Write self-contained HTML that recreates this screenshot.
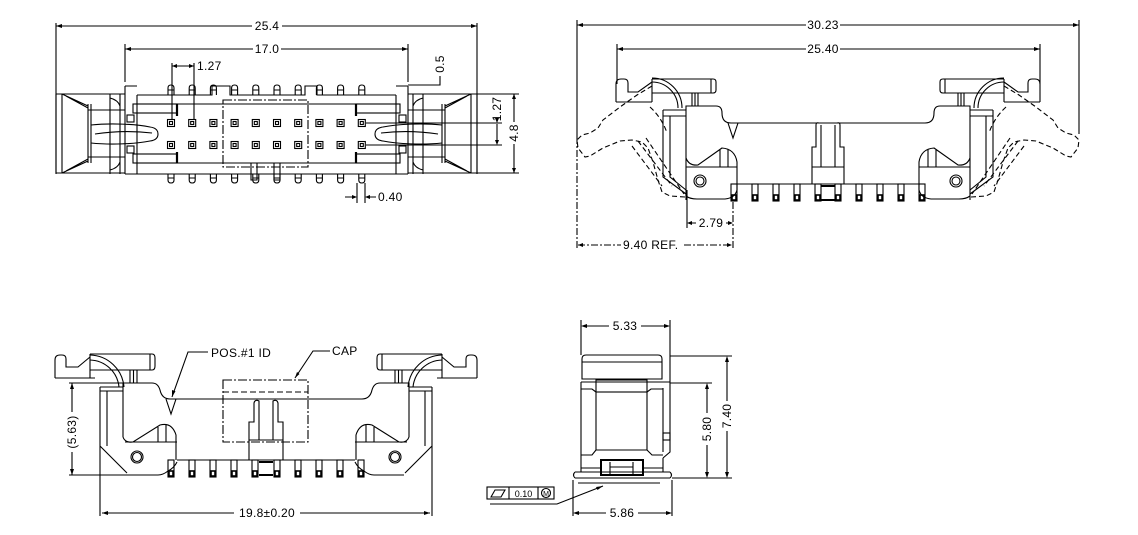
<!DOCTYPE html>
<html><head><meta charset="utf-8">
<style>
html,body{margin:0;padding:0;background:#fff;}
svg{display:block;}
text{font-family:"Liberation Sans",sans-serif;font-size:12px;fill:#000;stroke:none;letter-spacing:0.3px;}
</style></head><body>
<svg width="1138" height="535" viewBox="0 0 1138 535" xmlns="http://www.w3.org/2000/svg">
<defs>
  <path id="pA" d="M-3,95 V88 Q-3,85 0,85 Q3,85 3,88 V95 M-3,90 H3"/>
  <path id="pV" d="M-3,174 V180 Q-3,183 0,183 Q3,183 3,180 V174 M-3,178 H3"/>
  <g id="sq"><rect x="-3.5" y="-3.5" width="7" height="7"/><rect x="-1.5" y="-1.5" width="3" height="3"/></g>
  <g id="pS"><rect x="-3" y="0" width="6" height="17"/><rect x="-2" y="11" width="4" height="5" stroke-width="1.6"/></g>
</defs>

<g fill="none" stroke="#000" stroke-width="1.1">

<!-- ================= TOP-LEFT PLAN VIEW ================= -->
<g id="plLatch">
  <path d="M56,94 V173 M62,94 V173 M62,94 L88,106 M66,96 L88,108 M62,173 L88,161 M66,171 L88,159 M88,104 V163 M91,104 V163 M88,110 H125 M88,157 H125 M56,94 H125 M56,173 H125"/>
  <path d="M91,125 C110,123 135,124 150,127 Q158,128 158,134 Q158,140 150,141 C135,144 110,145 91,143 M95,134 C115,131 135,131 152,133"/>
  <path d="M110,94 V174 M120,94 V174 M125,86 V174 M137,95 V174 M125,86 H137"/>
  <path d="M110,98 Q118,100 120,106 M110,170 Q118,168 120,162"/>
  <rect x="127" y="115" width="7" height="7"/><rect x="127" y="146" width="7" height="7"/>
  <rect x="133" y="104" width="44" height="9"/><rect x="133" y="154" width="44" height="9"/>
  <path d="M177,104 V116 M177,152 V163" stroke-width="2.2"/>
</g>
<use href="#plLatch" transform="translate(533,0) scale(-1,1)"/>

<path d="M137,95 H212 V86 H230 V95 H305 V86 H317 V95 H396"/>
<path d="M137,104 H396 M137,163 H396 M125,174 H408"/>
<rect x="223" y="100" width="85" height="67" stroke-dasharray="9,2,2,2"/>
<path d="M251,163 V180 H257 V163 M274,163 V180 H280 V163"/>

<use href="#pA" x="171"/><use href="#pA" x="192.2"/><use href="#pA" x="213.4"/><use href="#pA" x="234.6"/><use href="#pA" x="255.8"/>
<use href="#pA" x="277"/><use href="#pA" x="298.2"/><use href="#pA" x="319.4"/><use href="#pA" x="340.6"/><use href="#pA" x="361.8"/>
<use href="#pV" x="171"/><use href="#pV" x="192.2"/><use href="#pV" x="213.4"/><use href="#pV" x="234.6"/><use href="#pV" x="255.8"/>
<use href="#pV" x="277"/><use href="#pV" x="298.2"/><use href="#pV" x="319.4"/><use href="#pV" x="340.6"/><use href="#pV" x="361.8"/>
<g>
<use href="#sq" x="171" y="123"/><use href="#sq" x="192.2" y="123"/><use href="#sq" x="213.4" y="123"/><use href="#sq" x="234.6" y="123"/><use href="#sq" x="255.8" y="123"/>
<use href="#sq" x="277" y="123"/><use href="#sq" x="298.2" y="123"/><use href="#sq" x="319.4" y="123"/><use href="#sq" x="340.6" y="123"/><use href="#sq" x="361.8" y="123"/>
<use href="#sq" x="171" y="145"/><use href="#sq" x="192.2" y="145"/><use href="#sq" x="213.4" y="145"/><use href="#sq" x="234.6" y="145"/><use href="#sq" x="255.8" y="145"/>
<use href="#sq" x="277" y="145"/><use href="#sq" x="298.2" y="145"/><use href="#sq" x="319.4" y="145"/><use href="#sq" x="340.6" y="145"/><use href="#sq" x="361.8" y="145"/>
</g>

<!-- plan view dims -->
<path d="M56,23 V174 M477,23 V174 M56,26 H252 M282,26 H477"/>
<path d="M125,44 V82 M408,44 V82 M125,49 H253 M281,49 H408"/>
<path d="M172,63 V119 M194,63 V119 M172,66 H194"/>
<path d="M408,85 H440 V76"/>
<path d="M366,123 H502 M366,145 H502 M497,124 V142"/>
<path d="M477,94 H519 M477,173 H519 M514,94 V122 M514,144 V173"/>
<path d="M357,183 V203 M365,183 V203 M345,197 H356 M366,197 H376"/>
<g fill="#000" stroke="none">
  <path d="M56,26 l6,-2 v4z M477,26 l-6,-2 v4z M125,49 l6,-2 v4z M408,49 l-6,-2 v4z M172,66 l5,-2 v4z M194,66 l-5,-2 v4z"/>
  <path d="M497,123 l-2,-5 h4z M497,145 l-2,-5 h4z M514,94 l-2,5 h4z M514,173 l-2,-5 h4z M357,197 l-5,-2 v4z M365,197 l5,-2 v4z"/>
</g>
<text x="267" y="30" text-anchor="middle">25.4</text>
<text x="267" y="53" text-anchor="middle">17.0</text>
<text x="197" y="70">1.27</text>
<text x="444" y="64" transform="rotate(-90 444 64)" text-anchor="middle">0.5</text>
<text x="501" y="109" transform="rotate(-90 501 109)" text-anchor="middle">1.27</text>
<text x="518" y="133" transform="rotate(-90 518 133)" text-anchor="middle">4.8</text>
<text x="378" y="201">0.40</text>

<!-- ================= TOP-RIGHT SIDE VIEW ================= -->
<g id="trL">
  <path d="M616,102 V84 Q616,79 621,79 H624 Q628,79 628,83 V92 H638 L652,82 M616,102 H652 M652,79 V102"/>
  <path d="M652,79 H713 Q716,79 716,82 V90 Q716,93 713,93 H652 M711,79 V93"/>
  <path d="M652,78 A30,30 0 0 1 682,108 M652,82 A26,26 0 0 1 678,108"/>
  <path d="M692,93 V106 M698,93 V106 M695,93 V106"/>
  <path d="M663,110 H686 M663,116 H686 M663,110 V177 L686,194 M670,116 V177 L686,190"/>
  <path d="M686,200 V106 H716 Q722,106 722,113 Q722,123 731,123 H828"/>
  <path d="M686,158 Q689,166 698,165 L722,148 Q735,149 737,162 V184 M686,167 H737 M720,150 V167 M728,149 V167"/>
  <path d="M737,184 V190 Q735,198 725,199 H697 Q690,199 686,196"/>
  <circle cx="700" cy="181" r="6"/><circle cx="700" cy="181" r="4"/>
  <path d="M737,184 H828 M828,167 H812 V184 M812,167 V147 H816 V125 Q816,122 819,123 M821,125 V167"/>
  <use href="#pS" x="734" y="184"/><use href="#pS" x="755" y="184"/><use href="#pS" x="776" y="184"/><use href="#pS" x="797" y="184"/><use href="#pS" x="818" y="184"/>
  <path d="M821,186 H828 M821,200 H828" stroke-width="2"/>
  <g stroke-dasharray="5,3">
    <path d="M652,86 L637,95 L620,107 L603,120 L598,128 L590,133 L582,135 L577,140 L578,148 L585,157 L590,156 L603,148 L620,141 L632,140 L642,142 L648,148 L653,162 L658,180 L662,192 L670,196 L685,197"/>
    <path d="M632,146 L662,186 M638,141 L672,186 M646,138 L684,194 M650,107 Q662,118 667,133"/>
  </g>
</g>
<use href="#trL" transform="translate(1656,0) scale(-1,1)"/>
<path d="M728,123 L733,138 L738,123"/>

<!-- top-right dims -->
<path d="M577,20 V137 M1079,20 V134 M577,25 H806 M840,25 H1079"/>
<path d="M617,44 V84 M1040,44 V84 M617,49 H806 M840,49 H1040"/>
<path d="M577,137 V249" stroke-dasharray="7,2,2,2"/>
<path d="M687,190 V228 M689,223 H696 M726,223 H731"/>
<path d="M733,202 V250 M578,245 H621 M684,245 H732" stroke-dasharray="7,2,2,2"/>
<g fill="#000" stroke="none">
  <path d="M577,25 l6,-2 v4z M1079,25 l-6,-2 v4z M617,49 l6,-2 v4z M1040,49 l-6,-2 v4z M687,223 l5,-2 v4z M733,223 l-5,-2 v4z M578,245 l5,-2 v4z M732,245 l-5,-2 v4z"/>
</g>
<text x="823" y="29" text-anchor="middle">30.23</text>
<text x="823" y="53" text-anchor="middle">25.40</text>
<text x="711" y="227" text-anchor="middle">2.79</text>
<text x="623" y="249">9.40  REF.</text>

<!-- ================= BOTTOM-LEFT FRONT VIEW ================= -->
<g id="blL">
  <path d="M55,378 V360 Q55,355 60,355 H62 Q66,355 66,359 V367 H78 L90,357 M55,378 H95 M90,354 V378"/>
  <path d="M90,354 H152 Q155,354 155,358 V366 Q155,370 152,370 H90 M150,354 V370"/>
  <path d="M90,355 A35,35 0 0 1 124,387 M90,360 A30,30 0 0 1 119,387"/>
  <path d="M130,370 V383 M137,370 V383 M133.5,370 V383"/>
  <path d="M100,387 H123 M100,391 H123 M107,391 V446 M100,446 L127,473 M100,387 V516"/>
  <path d="M123,437 V383 H152 Q158,383 160,390 Q162,399 170,399 H266"/>
  <path d="M123,437 Q125,443 133,442 L160,425 Q172,422 176,435 V460 M125,442 H177 M158,427 V442 M166,424 V442"/>
  <path d="M177,462 Q174,468 168,471 Q163,475 158,475 H128"/>
  <circle cx="137" cy="457" r="6"/><circle cx="137" cy="457" r="4.5"/>
  <path d="M177,460 H266 M249,460 V440 H266 M249,440 V422 H254 V403 Q255,399 259,401 V440"/>
  <use href="#pS" x="171" y="460"/><use href="#pS" x="192" y="460"/><use href="#pS" x="213" y="460"/><use href="#pS" x="234" y="460"/><use href="#pS" x="255" y="460"/>
  <path d="M259,462 H266 M259,475 H266" stroke-width="2"/>
</g>
<use href="#blL" transform="translate(532,0) scale(-1,1)"/>
<path d="M166,399 L171,414 L176,399"/>
<rect x="223" y="380" width="85" height="62" stroke-dasharray="9,2,2,2"/>
<path d="M223,392 H308" stroke-dasharray="6,3"/>
<path d="M172,397 L188,352 H208 M295,378 L313,351 H330"/>
<g fill="#000" stroke="none">
  <path d="M172,397 l0,-7 l3.5,1.2z M295,378 l2,-6 l2.5,2z"/>
</g>
<text x="211" y="357">POS.#1 ID</text>
<text x="332" y="355">CAP</text>
<!-- dims -->
<path d="M69,383 H123 M69,475 H128 M72,383 V412 M72,452 V475"/>
<path d="M102,513 H234 M300,513 H430"/>
<g fill="#000" stroke="none">
  <path d="M72,383 l-2,6 h4z M72,475 l-2,-6 h4z M102,513 l6,-2 v4z M430,513 l-6,-2 v4z"/>
</g>
<text x="76" y="432" transform="rotate(-90 76 432)" text-anchor="middle">(5.63)</text>
<text x="267" y="517" text-anchor="middle">19.8±0.20</text>

<!-- ================= BOTTOM-RIGHT END VIEW ================= -->
<path d="M582,379 V359 Q582,355 586,355 H658 Q662,355 662,359 V379 Z M582,362 H662"/>
<path d="M581,382 H670 M581,382 V472 M670,382 V452 L663,458 M663,388 V452"/>
<rect x="596" y="380" width="51" height="12"/>
<path d="M596,392 V450 H647 V392"/>
<path d="M581,389 H592 L596,392 M647,392 L651,389 H663 M596,450 L592,455 H581 M647,450 L652,455 H663"/>
<rect x="663" y="433" width="7" height="7"/>
<rect x="601" y="460" width="42" height="15" stroke-width="2"/>
<path d="M610,462 V475 M633,462 V475 M610,467 H633 M581,468 H601 M643,468 H663 M663,458 V472"/>
<path d="M575,472 H670 M575,478 H670 M575,472 Q572,475 575,478 M670,472 Q673,475 670,478"/>
<!-- flatness callout -->
<rect x="487" y="487" width="67" height="12"/>
<path d="M509,487 V499 M538,487 V499"/>
<path d="M491,497 L495,490 H505 L501,497 Z"/>
<circle cx="546" cy="493" r="4.5"/>
<path d="M490,504 H557 L603,486 M578,483 H660"/>
<g fill="#000" stroke="none"><path d="M603,486 l-7,1 l1.5,3z"/></g>
<text x="523.5" y="497" text-anchor="middle" style="font-size:9px;letter-spacing:0">0.10</text>
<text x="546" y="496" text-anchor="middle" style="font-size:7px;letter-spacing:0">M</text>
<!-- dims -->
<path d="M581,320 V355 M670,320 V382 M583,326 H609 M641,326 H668"/>
<path d="M670,383 H712 M707,385 V413 M707,445 V476"/>
<path d="M670,356 H732 M727,358 V401 M727,431 V476"/>
<path d="M672,478 H732 M573,480 V516 M672,480 V516 M575,513 H606 M638,513 H670"/>
<g fill="#000" stroke="none">
  <path d="M581,326 l6,-2 v4z M670,326 l-6,-2 v4z M707,383 l-2,6 h4z M707,478 l-2,-6 h4z M727,356 l-2,6 h4z M727,478 l-2,-6 h4z M573,513 l6,-2 v4z M672,513 l-6,-2 v4z"/>
</g>
<text x="625" y="330" text-anchor="middle">5.33</text>
<text x="711" y="429" transform="rotate(-90 711 429)" text-anchor="middle">5.80</text>
<text x="731" y="416" transform="rotate(-90 731 416)" text-anchor="middle">7.40</text>
<text x="622" y="517" text-anchor="middle">5.86</text>

</g>
</svg>
</body></html>
